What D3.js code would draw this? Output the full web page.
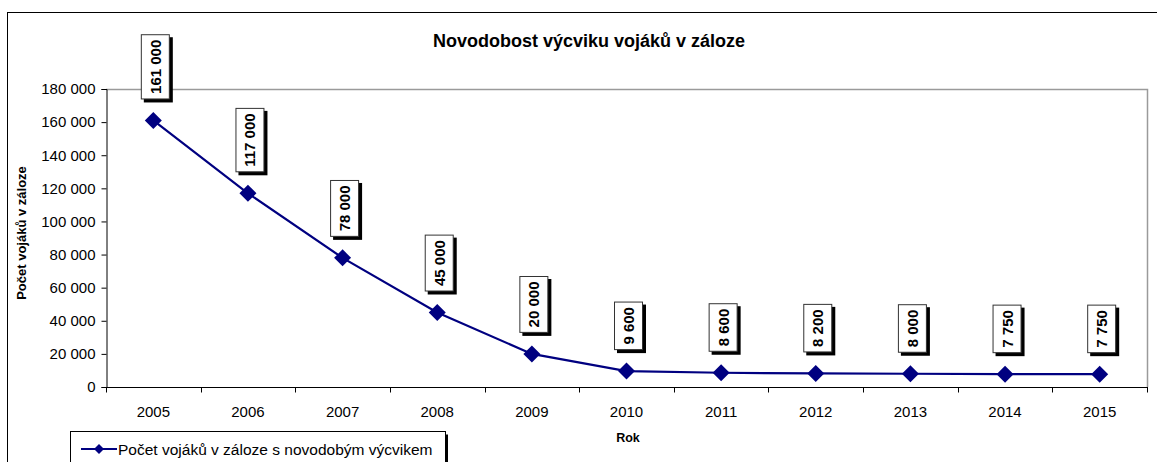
<!DOCTYPE html>
<html><head><meta charset="utf-8">
<script src="https://cdn.jsdelivr.net/npm/d3@7"></script>
<style>html,body{margin:0;padding:0;background:#fff;}svg{display:block;}</style>
</head><body>
<svg id="c" width="1157" height="462"></svg>
<script>
const years = ["2005","2006","2007","2008","2009","2010","2011","2012","2013","2014","2015"];
const values = [161000,117000,78000,45000,20000,9600,8600,8200,8000,7750,7750];
const yTicks = [0,20000,40000,60000,80000,100000,120000,140000,160000,180000];
const chartTitle = "Novodobost výcviku vojáků v záloze";
const yTitle = "Počet vojáků v záloze";
const xTitle = "Rok";
const seriesName = "Počet vojáků v záloze s novodobým výcvikem";

const fmt = v => d3.format(",")(v).replace(/,/g, " ");
const svg = d3.select("#c");
const FONT = "Liberation Sans, Arial, sans-serif";
const navy = "#000080";

const L = 106, R = 1147, T = 89, B = 387;
const x = d3.scaleBand().domain(years).range([L, R]).padding(0);
const y = d3.scaleLinear().domain([0, 180000]).range([B, T]);

// outer frame
svg.append("rect").attr("x", 7.5).attr("y", 12.5).attr("width", 1170).attr("height", 470)
  .attr("fill", "none").attr("stroke", "#000").attr("stroke-width", 1);

// plot area border (top/right grey)
svg.append("path").attr("d", `M${L},${T + 0.5}H${R + 0.5}V${B}`)
  .attr("fill", "none").attr("stroke", "#9a9a9a").attr("stroke-width", 1.5);

// y axis
const yAxis = d3.axisLeft(y).tickValues(yTicks).tickFormat(fmt).tickSize(5).tickPadding(6);
const gy = svg.append("g").attr("transform", `translate(${L + 0.5},0)`).call(yAxis);
gy.select(".domain").attr("stroke", "#000");
gy.selectAll(".tick line").attr("stroke", "#000");
gy.selectAll("text").attr("font-family", FONT).attr("font-size", 15).attr("fill", "#000");

// x axis with ticks at category boundaries
const gx = svg.append("g").attr("transform", `translate(0,${B + 0.5})`);
gx.append("line").attr("x1", L).attr("x2", R + 1).attr("stroke", "#000");
const bounds = years.map(d => x(d)).concat([x(years[years.length - 1]) + x.bandwidth()]);
gx.selectAll("line.tk").data(bounds).enter().append("line").attr("class", "tk")
  .attr("x1", d => Math.round(d) + 0.5).attr("x2", d => Math.round(d) + 0.5)
  .attr("y1", 0).attr("y2", 5).attr("stroke", "#000");
gx.selectAll("text").data(years).enter().append("text")
  .attr("x", d => x(d) + x.bandwidth() / 2).attr("y", 29.5)
  .attr("text-anchor", "middle").attr("font-family", FONT).attr("font-size", 15).text(d => d);

// titles
svg.append("text").attr("x", 589).attr("y", 47).attr("text-anchor", "middle")
  .attr("font-family", FONT).attr("font-size", 18).attr("font-weight", "bold").text(chartTitle);
svg.append("text").attr("transform", "translate(26,233) rotate(-90)").attr("text-anchor", "middle")
  .attr("font-family", FONT).attr("font-size", 13).attr("font-weight", "bold").text(yTitle);
svg.append("text").attr("x", 628).attr("y", 442).attr("text-anchor", "middle")
  .attr("font-family", FONT).attr("font-size", 12.5).attr("font-weight", "bold").text(xTitle);

// line
const cx = d => x(d) + x.bandwidth() / 2;
const line = d3.line().x((d, i) => cx(years[i])).y(d => y(d));
svg.append("path").datum(values).attr("d", line).attr("fill", "none")
  .attr("stroke", navy).attr("stroke-width", 2.2);

const diamond = s => `M0,${-s}L${s},0L0,${s}L${-s},0Z`;
svg.selectAll("path.pt").data(values).enter().append("path").attr("class", "pt")
  .attr("d", diamond(8.5)).attr("fill", navy)
  .attr("transform", (d, i) => `translate(${cx(years[i])},${y(d)})`);

// data labels
const lbl = svg.append("g");
values.forEach((v, i) => {
  const px = cx(years[i]) + 2, py = y(v);
  const g = lbl.append("g");
  const t = g.append("text").attr("font-family", FONT).attr("font-size", 15).attr("font-weight", "bold")
    .attr("text-anchor", "middle").text(fmt(v));
  const len = t.node().getComputedTextLength();
  const h = len + 11, w = 29;
  const bottom = py - 21;
  const top = bottom - h;
  g.insert("rect", "text").attr("x", px - w / 2 + 3).attr("y", top + 3).attr("width", w).attr("height", h).attr("fill", "#000");
  g.insert("rect", "text").attr("x", px - w / 2 + 0.5).attr("y", top + 0.5).attr("width", w - 1).attr("height", h - 1)
    .attr("fill", "#fff").attr("stroke", "#333").attr("stroke-width", 1);
  t.attr("transform", `translate(${px + 5.5},${(top + bottom) / 2}) rotate(-90)`);
});

// legend
const lg = svg.append("g");
lg.append("rect").attr("x", 73).attr("y", 434.5).attr("width", 375).attr("height", 40).attr("fill", "#000");
lg.append("rect").attr("x", 70.5).attr("y", 431.5).attr("width", 375).attr("height", 40)
  .attr("fill", "#fff").attr("stroke", "#000").attr("stroke-width", 1);
lg.append("line").attr("x1", 81).attr("x2", 117).attr("y1", 449).attr("y2", 449)
  .attr("stroke", navy).attr("stroke-width", 2.2);
lg.append("path").attr("d", diamond(5)).attr("fill", navy).attr("transform", "translate(99,449)");
lg.append("text").attr("x", 118).attr("y", 455).attr("font-family", FONT).attr("font-size", 15.5)
  .text(seriesName);
</script>
</body></html>
